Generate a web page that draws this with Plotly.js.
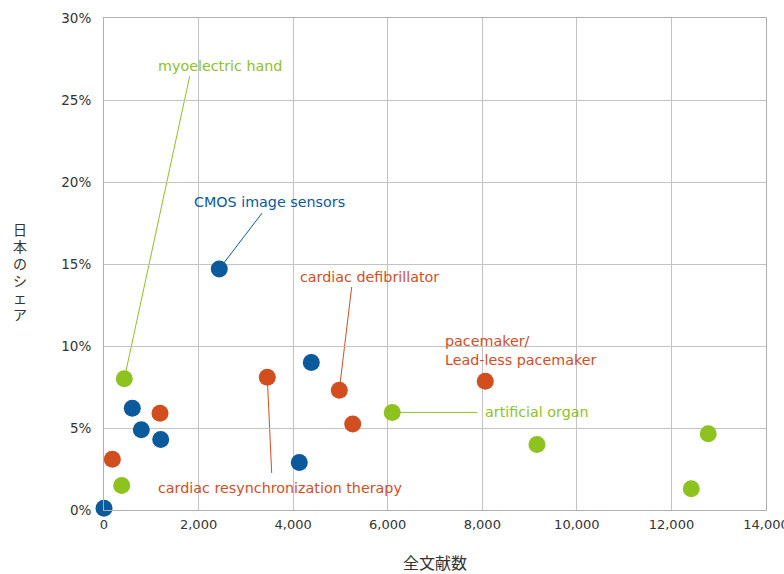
<!DOCTYPE html>
<html>
<head>
<meta charset="utf-8">
<script src="https://cdn.plot.ly/plotly-3.0.1.min.js"></script>
<style>html,body{margin:0;padding:0;background:#fff;}#chart{width:784px;height:574px;}</style>
</head>
<body>
<div id="chart"></div>
<script>
// Data (x: total literature count, y: Japan's share in %)
var blueX = [0, 598, 789, 1199, 2438, 4130, 4384];
var blueY = [0.1, 6.2, 4.9, 4.3, 14.7, 2.9, 9.0];
var orangeX = [176, 1184, 3453, 4976, 5259, 8063];
var orangeY = [3.1, 5.9, 8.1, 7.3, 5.25, 7.85];
var greenX = [429, 374, 6096, 9156, 12419, 12778];
var greenY = [8.0, 1.5, 5.95, 4.0, 1.3, 4.65];

var xTicks = [0, 2000, 4000, 6000, 8000, 10000, 12000, 14000];
var xTickLabels = ['0', '2,000', '4,000', '6,000', '8,000', '10,000', '12,000', '14,000'];
var yTicks = [0, 5, 10, 15, 20, 25, 30];
var yTickLabels = ['0%', '5%', '10%', '15%', '20%', '25%', '30%'];
var yTitleChars = ['日', '本', 'の', 'シ', 'ェ', 'ア'];

var BLUE = '#0a5a9c', ORANGE = '#d24e1f', GREEN = '#8dc21f';
var LATIN = 'Verdana, "DejaVu Sans", sans-serif';
var CJK = '"Noto Sans CJK JP", sans-serif';

function sc(x, y, c) {
  return {x: x, y: y, type: 'scatter', mode: 'markers', hoverinfo: 'none',
    marker: {color: c, size: 17, line: {width: 0}}, cliponaxis: false};
}

// Labels: [text, color, label x, label y, xanchor, point series, point index, leader tail x, leader tail y]
var labels = [
  ['myoelectric hand', GREEN, 2463, 27.1, 'center', 'g', 0, 1812, 26.45],
  ['CMOS image sensors', BLUE, 3500, 18.8, 'center', 'b', 4, 3341, 18.1],
  ['cardiac defibrillator', ORANGE, 5614, 14.2, 'center', 'o', 3, 5238, 13.6],
  ['pacemaker/<br>Lead-less pacemaker', ORANGE, 7169, 9.75, 'left', null, 0, 0, 0],
  ['artificial organ', GREEN, 8014, 5.97, 'left', 'g', 2, 7902, 5.95],
  ['cardiac resynchronization therapy', ORANGE, 3722, 1.35, 'center', 'o', 2, 3546, 2.26]
];
var series = {b: [blueX, blueY], o: [orangeX, orangeY], g: [greenX, greenY]};

var annotations = [];
var shapes = [];
labels.forEach(function (l) {
  annotations.push({x: l[2], y: l[3], xref: 'x', yref: 'y', text: l[0], showarrow: false,
    xanchor: l[4], yanchor: 'middle', align: 'left', font: {family: LATIN, size: 14.3, color: l[1]}});
  if (l[5]) {
    var s = series[l[5]];
    shapes.push({type: 'line', xref: 'x', yref: 'y', x0: s[0][l[6]], y0: s[1][l[6]], x1: l[7], y1: l[8],
      line: {color: l[1], width: 1}, layer: 'below'});
  }
});
// vertical y-axis title, one upright character per line
yTitleChars.forEach(function (ch, i) {
  annotations.push({xref: 'paper', yref: 'paper', x: -0.127, y: 0.485, xanchor: 'center', yanchor: 'middle',
    yshift: (2.5 - i) * 17, text: ch, showarrow: false, font: {family: CJK, size: 14, color: '#333'}});
});

var layout = {
  width: 784, height: 574,
  margin: {l: 104, r: 18, t: 17.5, b: 63.5},
  paper_bgcolor: '#fff', plot_bgcolor: '#fff',
  showlegend: false,
  xaxis: {range: [0, 14000], tickvals: xTicks, ticktext: xTickLabels, showgrid: true, gridcolor: '#c3c3c3', gridwidth: 1,
    showline: true, linecolor: '#b0b0b0', linewidth: 1, mirror: true, zeroline: false, ticks: '',
    ticklabeloverflow: 'allow', ticklabelstandoff: 2,
    tickfont: {family: LATIN, size: 13, color: '#333'},
    title: {text: '全文献数', font: {family: CJK, size: 16, color: '#333'}, standoff: 28}},
  yaxis: {range: [0, 30], tickvals: yTicks, ticktext: yTickLabels, showgrid: true, gridcolor: '#c3c3c3', gridwidth: 1,
    showline: true, linecolor: '#b0b0b0', linewidth: 1, mirror: true, zeroline: false, ticks: '',
    tickfont: {family: LATIN, size: 13.5, color: '#333'}, ticklabelstandoff: 9},
  annotations: annotations,
  shapes: shapes
};

Plotly.newPlot('chart', [sc(blueX, blueY, BLUE), sc(orangeX, orangeY, ORANGE), sc(greenX, greenY, GREEN)], layout,
  {displayModeBar: false, staticPlot: true});
</script>
</body>
</html>
